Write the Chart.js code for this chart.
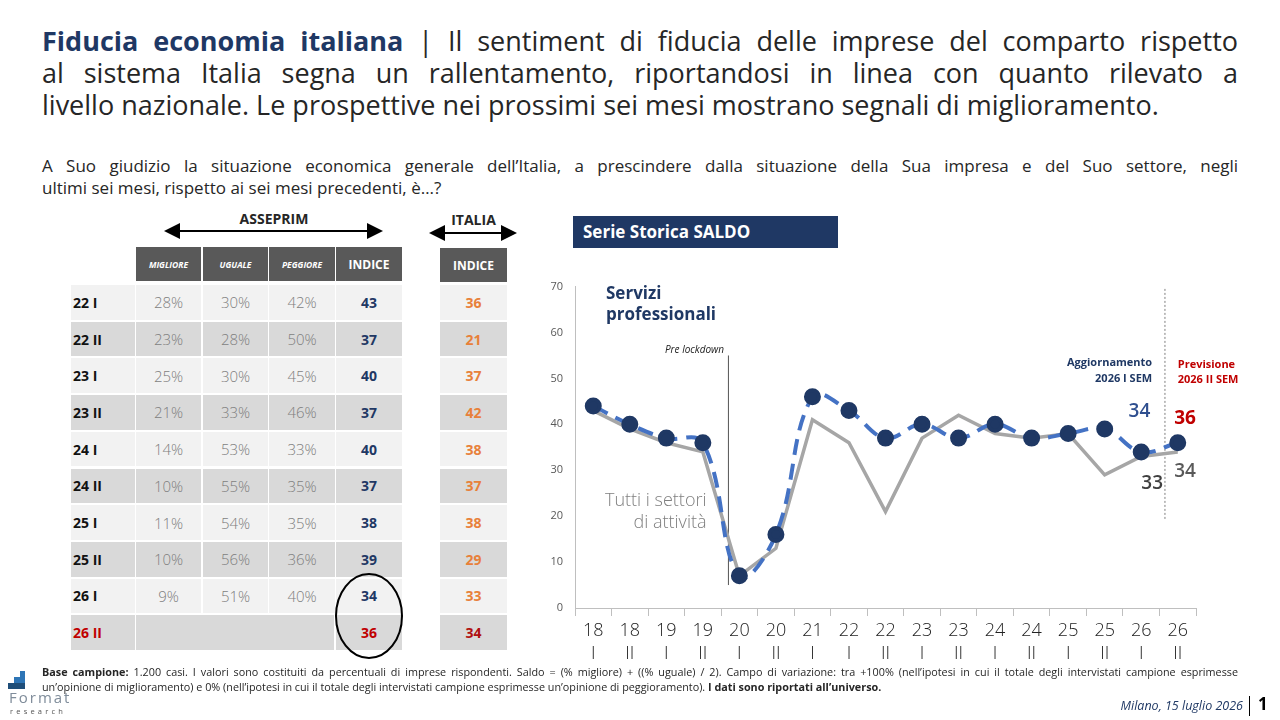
<!DOCTYPE html>
<html>
<head>
<meta charset="utf-8">
<script src="https://cdn.jsdelivr.net/npm/chart.js@4/dist/chart.umd.min.js"></script>
<style>
  body { margin: 0; width: 1280px; height: 720px; background: #fff; position: relative; overflow: hidden;
         font-family: 'Open Sans', 'DejaVu Sans', sans-serif; color: #262626; }
  .abs { position: absolute; }
  .title { left: 42px; width: 1196px; top: 25px; font-size: 27px; line-height: 32px; }
  .title div { white-space: nowrap; text-align: justify; text-align-last: justify; }
  .title div.last { text-align-last: left; }
  .title b { color: #1F3864; }
  .question { left: 42px; width: 1196px; top: 155px; font-size: 17px; line-height: 22px; }
  .question div { white-space: nowrap; text-align-last: justify; }
  .question div.last { text-align-last: left; }
  .cell { position: absolute; display: flex; align-items: center; justify-content: center; box-sizing: border-box; }
  .hdr { background: #595959; color: #fff; font-weight: bold; }
  .small-h { font-size: 8.5px; font-style: italic; }
  .pct { font-size: 15px; color: #7f7f7f; font-weight: 300; }
  .lbl { justify-content: flex-start; padding-left: 2px; font-weight: bold; font-size: 14px; color: #111; }
  .idx { font-weight: bold; font-size: 14px; color: #1F3864; }
  .ita { font-weight: bold; font-size: 14px; color: #E8803A; }
  .footer { left: 42px; width: 1196px; top: 664px; font-size: 10.8px; line-height: 15px; color: #262626; }
  .footer div { white-space: nowrap; text-align-last: justify; }
  .footer div.last { text-align-last: left; }
</style>
</head>
<body>

<div class="abs title">
  <div><b>Fiducia economia italiana</b> | Il sentiment di fiducia delle imprese del comparto rispetto</div>
  <div>al sistema Italia segna un rallentamento, riportandosi in linea con quanto rilevato a</div>
  <div class="last">livello nazionale. Le prospettive nei prossimi sei mesi mostrano segnali di miglioramento.</div>
</div>

<div class="abs question">
  <div>A Suo giudizio la situazione economica generale dell’Italia, a prescindere dalla situazione della Sua impresa e del Suo settore, negli</div>
  <div class="last">ultimi sei mesi, rispetto ai sei mesi precedenti, è…?</div>
</div>

<!-- arrows over the tables -->
<div class="abs" style="left:160px;top:209px;width:228px;text-align:center;font-weight:bold;font-size:14px;">ASSEPRIM</div>
<div class="abs" style="left:426px;top:210px;width:95px;text-align:center;font-weight:bold;font-size:14px;">ITALIA</div>
<svg class="abs" style="left:0;top:0" width="560" height="260">
  <defs>
    <marker id="ah" markerWidth="8" markerHeight="8" refX="7" refY="4" orient="auto-start-reverse">
      <path d="M0,0 L8,4 L0,8 z" fill="#000"/>
    </marker>
  </defs>
  <line x1="166" y1="231" x2="381" y2="231" stroke="#000" stroke-width="2" marker-start="url(#ah)" marker-end="url(#ah)"/>
  <line x1="431" y1="233" x2="515" y2="233" stroke="#000" stroke-width="2" marker-start="url(#ah)" marker-end="url(#ah)"/>
</svg>

<div id="table"></div>

<div class="abs" style="left:573px;top:216px;width:265px;height:32px;background:#1F3864;color:#fff;font-weight:bold;font-size:17px;line-height:32px;padding-left:10px;box-sizing:border-box;">Serie Storica SALDO</div>

<canvas id="chart" class="abs" width="750" height="402" style="left:530px;top:268px;"></canvas>

<svg class="abs" style="left:0;top:0;pointer-events:none" width="1280" height="720">
  <ellipse cx="369" cy="616" rx="33" ry="42" fill="none" stroke="#000" stroke-width="2"/>
  <!-- logo -->
  <rect x="20" y="671" width="5" height="6" fill="#2E75B6"/>
  <rect x="14" y="677" width="11" height="6" fill="#2E75B6"/>
  <rect x="8" y="683" width="17" height="6" fill="#1F4E79"/>
</svg>
<div class="abs" style="left:9px;top:689px;font-size:15px;line-height:16px;color:#7f8c9a;letter-spacing:2px;">Format</div>
<div class="abs" style="left:10px;top:707px;font-size:7.5px;line-height:9px;color:#555;letter-spacing:3.2px;">research</div>

<div class="abs footer">
  <div><b>Base campione:</b> 1.200 casi. I valori sono costituiti da percentuali di imprese rispondenti. Saldo = (% migliore) + ((% uguale) / 2). Campo di variazione: tra +100% (nell’ipotesi in cui il totale degli intervistati campione esprimesse</div>
  <div class="last">un’opinione di miglioramento) e 0% (nell’ipotesi in cui il totale degli intervistati campione esprimesse un’opinione di peggioramento). <b>I dati sono riportati all’universo.</b></div>
</div>

<div class="abs" style="right:37px;top:697px;font-size:12.5px;font-style:italic;color:#1F3864;">Milano, 15 luglio 2026</div>
<div class="abs" style="left:1249px;top:696px;width:1px;height:20px;background:#000;"></div>
<div class="abs" style="left:1258px;top:692px;font-size:17px;font-weight:bold;color:#000;">1</div>

<script>
// ---- table data ----
const periods = ["22 I", "22 II", "23 I", "23 II", "24 I", "24 II", "25 I", "25 II", "26 I", "26 II"];
const migliore = ["28%", "23%", "25%", "21%", "14%", "10%", "11%", "10%", "9%", ""];
const uguale = ["30%", "28%", "30%", "33%", "53%", "55%", "54%", "56%", "51%", ""];
const peggiore = ["42%", "50%", "45%", "46%", "33%", "35%", "35%", "36%", "40%", ""];
const indiceAsseprim = [43, 37, 40, 37, 40, 37, 38, 39, 34, 36];
const indiceItalia = [36, 21, 37, 42, 38, 37, 38, 29, 33, 34];

// ---- chart data ----
const labels = [
    ["18", "I"], ["18", "II"], ["19", "I"], ["19", "II"], ["20", "I"], ["20", "II"],
    ["21", "I"], ["22", "I"], ["22", "II"], ["23", "I"], ["23", "II"], ["24", "I"],
    ["24", "II"], ["25", "I"], ["25", "II"], ["26", "I"], ["26", "II"]
];
const serviziProfessionali = [44, 40, 37, 36, 7, 16, 46, 43, 37, 40, 37, 40, 37, 38, 39, 34, 36];
const tuttiSettori = [43, 39, 36, 34, 7, 13, 41, 36, 21, 37, 42, 38, 37, 38, 29, 33, 34];

// build the tables
const table = document.getElementById("table");
function cell(x, y, w, h, cls, text, style) {
    const d = document.createElement("div");
    d.className = "cell " + cls;
    d.style.left = x + "px";
    d.style.top = y + "px";
    d.style.width = w + "px";
    d.style.height = h + "px";
    if (style) d.style.cssText += style;
    d.textContent = text;
    table.appendChild(d);
}

const cols = [136, 203, 269, 336];
const colW = [65, 65, 66, 66];
cell(cols[0], 247, colW[0], 34, "hdr small-h", "MIGLIORE");
cell(cols[1], 247, colW[1], 34, "hdr small-h", "UGUALE");
cell(cols[2], 247, colW[2], 34, "hdr small-h", "PEGGIORE");
cell(cols[3], 247, colW[3], 34, "hdr", "INDICE", "font-size:12px;");
cell(440, 248, 67, 34, "hdr", "INDICE", "font-size:12px;");

periods.forEach((p, i) => {
    const y = 285 + i * 36.7;
    const h = 34.7;
    const bg = i % 2 === 0 ? "#F2F2F2" : "#D9D9D9";
    const last = i === periods.length - 1;
    cell(71, y, 64, h, "lbl", p, "background:" + bg + ";" + (last ? "color:#C00000;" : ""));
    if (last) {
        cell(cols[0], y, cols[3] - cols[0] - 2, h, "", "", "background:" + bg + ";");
    } else {
        cell(cols[0], y, colW[0], h, "pct", migliore[i], "background:" + bg + ";");
        cell(cols[1], y, colW[1], h, "pct", uguale[i], "background:" + bg + ";");
        cell(cols[2], y, colW[2], h, "pct", peggiore[i], "background:" + bg + ";");
    }
    cell(cols[3], y, colW[3], h, "idx", indiceAsseprim[i], "background:" + bg + ";" + (last ? "color:#C00000;" : ""));
    cell(440, y, 67, h, "ita", indiceItalia[i], "background:" + bg + ";" + (last ? "color:#B01010;" : ""));
});

// annotations drawn relative to the scales
const annotations = {
    id: "annotations",
    beforeDatasetsDraw(chart) {
        const { ctx, scales: { x, y } } = chart;
        ctx.save();
        // pre lockdown line
        const xl = x.getPixelForValue(3.7);
        ctx.strokeStyle = "#555";
        ctx.lineWidth = 1;
        ctx.beginPath();
        ctx.moveTo(xl, y.getPixelForValue(55));
        ctx.lineTo(xl, y.getPixelForValue(5));
        ctx.stroke();
        // forecast separator
        const xf = x.getPixelForValue(15.65);
        ctx.strokeStyle = "#7f7f7f";
        ctx.setLineDash([2, 2]);
        ctx.beginPath();
        ctx.moveTo(xf, y.getPixelForValue(69.5));
        ctx.lineTo(xf, y.getPixelForValue(19));
        ctx.stroke();
        ctx.restore();
    },
    afterDatasetsDraw(chart) {
        const { ctx, scales: { x, y } } = chart;
        const F = "'Open Sans', 'DejaVu Sans', sans-serif";
        ctx.save();
        ctx.textBaseline = "alphabetic";

        ctx.fillStyle = "#1F3864";
        ctx.font = "bold 17px " + F;
        ctx.textAlign = "left";
        ctx.fillText("Servizi", x.left + 31, y.getPixelForValue(67.4));
        ctx.fillText("professionali", x.left + 31, y.getPixelForValue(62.7));

        ctx.fillStyle = "#7f7f7f";
        ctx.font = "300 18px " + F;
        ctx.textAlign = "right";
        ctx.fillText("Tutti i settori", x.getPixelForValue(3.1), y.getPixelForValue(22.3));
        ctx.fillText("di attività", x.getPixelForValue(3.1), y.getPixelForValue(17.4));

        ctx.fillStyle = "#222";
        ctx.font = "italic 10px " + F;
        ctx.fillText("Pre lockdown", x.getPixelForValue(3.58), y.getPixelForValue(55.6));

        ctx.fillStyle = "#1F3864";
        ctx.font = "bold 11px " + F;
        ctx.fillText("Aggiornamento", x.getPixelForValue(15.3), y.getPixelForValue(52.7));
        ctx.fillText("2026 I SEM", x.getPixelForValue(15.3), y.getPixelForValue(49.3));

        ctx.fillStyle = "#C00000";
        ctx.textAlign = "left";
        ctx.fillText("Previsione", x.getPixelForValue(16), y.getPixelForValue(52.3));
        ctx.fillText("2026 II SEM", x.getPixelForValue(16), y.getPixelForValue(48.9));

        // value labels
        ctx.textAlign = "center";
        ctx.font = "600 19px " + F;
        ctx.fillStyle = "#2F4F8F";
        ctx.fillText(serviziProfessionali[15], x.getPixelForValue(14.95), y.getPixelForValue(serviziProfessionali[15] + 7.5));
        ctx.fillStyle = "#404040";
        ctx.fillText(tuttiSettori[15], x.getPixelForValue(15.3), y.getPixelForValue(tuttiSettori[15] - 7));
        ctx.fillStyle = "#595959";
        ctx.fillText(tuttiSettori[16], x.getPixelForValue(16.2), y.getPixelForValue(tuttiSettori[16] - 5.5));
        ctx.font = "bold 19px " + F;
        ctx.fillStyle = "#C00000";
        ctx.fillText(serviziProfessionali[16], x.getPixelForValue(16.2), y.getPixelForValue(serviziProfessionali[16] + 4));
        ctx.restore();
    }
};

new Chart(document.getElementById("chart"), {
    type: "line",
    data: {
        labels: labels,
        datasets: [
            {
                label: "Servizi professionali",
                data: serviziProfessionali,
                borderColor: "#4472C4",
                borderWidth: 4,
                borderDash: [16, 9],
                tension: 0.4,
                pointRadius: 6.5,
                pointBackgroundColor: "#1F3864",
                pointBorderColor: "#1F3864",
                order: 0
            },
            {
                label: "Tutti i settori di attività",
                data: tuttiSettori,
                borderColor: "#A6A6A6",
                borderWidth: 3.5,
                tension: 0,
                pointRadius: 0,
                order: 1
            }
        ]
    },
    options: {
        responsive: false,
        animation: false,
        layout: { padding: { top: 12, right: 84, left: 0, bottom: 0 } },
        plugins: {
            legend: { display: false },
            tooltip: { enabled: false }
        },
        scales: {
            x: {
                offset: true,
                afterFit: (s) => { s.height = 62; },
                border: { color: "#bfbfbf" },
                grid: { offset: true, drawOnChartArea: false, tickLength: 8, color: "#bfbfbf" },
                ticks: {
                    color: "#222",
                    padding: 4,
                    maxRotation: 0,
                    autoSkip: false,
                    font: { size: 18, family: "'Open Sans', 'DejaVu Sans', sans-serif", weight: 300, lineHeight: 1.25 }
                }
            },
            y: {
                min: 0,
                max: 70,
                afterFit: (s) => { s.width = 45; },
                border: { color: "#bfbfbf" },
                grid: { drawOnChartArea: false, drawTicks: false },
                ticks: {
                    stepSize: 10,
                    padding: 12,
                    color: "#595959",
                    font: { size: 11, family: "'Open Sans', 'DejaVu Sans', sans-serif" }
                }
            }
        }
    },
    plugins: [annotations]
});
</script>
</body>
</html>
